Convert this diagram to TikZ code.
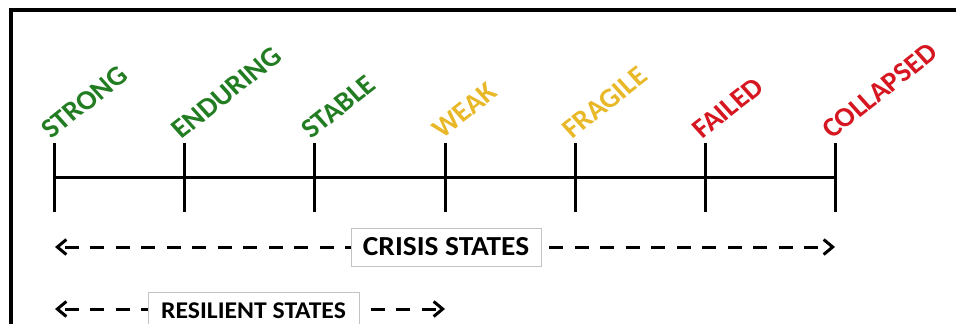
\documentclass[tikz,border=0pt]{standalone}
\usepackage{fontspec}
\setmainfont{Carlito}
\usetikzlibrary{arrows.meta}
\definecolor{lgreen}{RGB}{34,125,34}
\definecolor{lgold}{RGB}{232,184,40}
\definecolor{lred}{RGB}{214,22,32}
\definecolor{boxgray}{RGB}{195,195,195}
\begin{document}
\begin{tikzpicture}[x=1pt,y=-1pt,
  statelabel/.style={anchor=base west, inner sep=0pt, xscale=1.07, rotate=40,
    font=\fontsize{27.5pt}{30pt}\selectfont\bfseries},
  tickline/.style={line width=3pt},
  frameline/.style={line width=3.2pt},
  dasharrow/.style={line width=3pt, dash pattern=on 14pt off 11.5pt, dash phase=-6pt,
    {Straight Barb[length=9pt,width=15pt]}-{Straight Barb[length=9pt,width=15pt]}},
  statebox/.style={draw=boxgray, line width=0.9pt, fill=white, inner sep=0pt,
    minimum height=38pt}
]
\useasboundingbox (0,0) rectangle (956,324);
\clip (0,0) rectangle (956,324);
\draw[frameline] (11,340) -- (11,10) -- (970,10);
\foreach \i/\x/\lab/\col in {1/54/STRONG/lgreen, 2/184/ENDURING/lgreen, 3/314/STABLE/lgreen,
  4/445/WEAK/lgold, 5/575/FRAGILE/lgold, 6/705/FAILED/lred, 7/835/COLLAPSED/lred} {
  \coordinate (top\i) at (\x,143);
  \coordinate (mid\i) at (\x,177);
  \coordinate (bot\i) at (\x,212);
  \draw[tickline] (top\i) -- (bot\i);
  \node[statelabel, text=\col] (lab\i) at (\x-3,140) {\lab};
}
\draw[tickline] (mid1) -- (mid7);
\coordinate (cl) at (55,247);
\coordinate (cr) at (835,247);
\draw[dasharrow] (cl) -- (cr);
\node[statebox, minimum width=190pt, font=\fontsize{27.5pt}{30pt}\selectfont\bfseries]
  (crisis) at (446,247) {\scalebox{1.07}[1]{CRISIS STATES}};
\coordinate (rl) at (55,309);
\coordinate (rr) at (445,309);
\draw[dasharrow] (rl) -- (rr);
\node[statebox, minimum width=211pt, font=\fontsize{24pt}{28pt}\selectfont\bfseries]
  (resilient) at (253.5,311) {\scalebox{1.07}[1]{RESILIENT STATES}};
\end{tikzpicture}
\end{document}
